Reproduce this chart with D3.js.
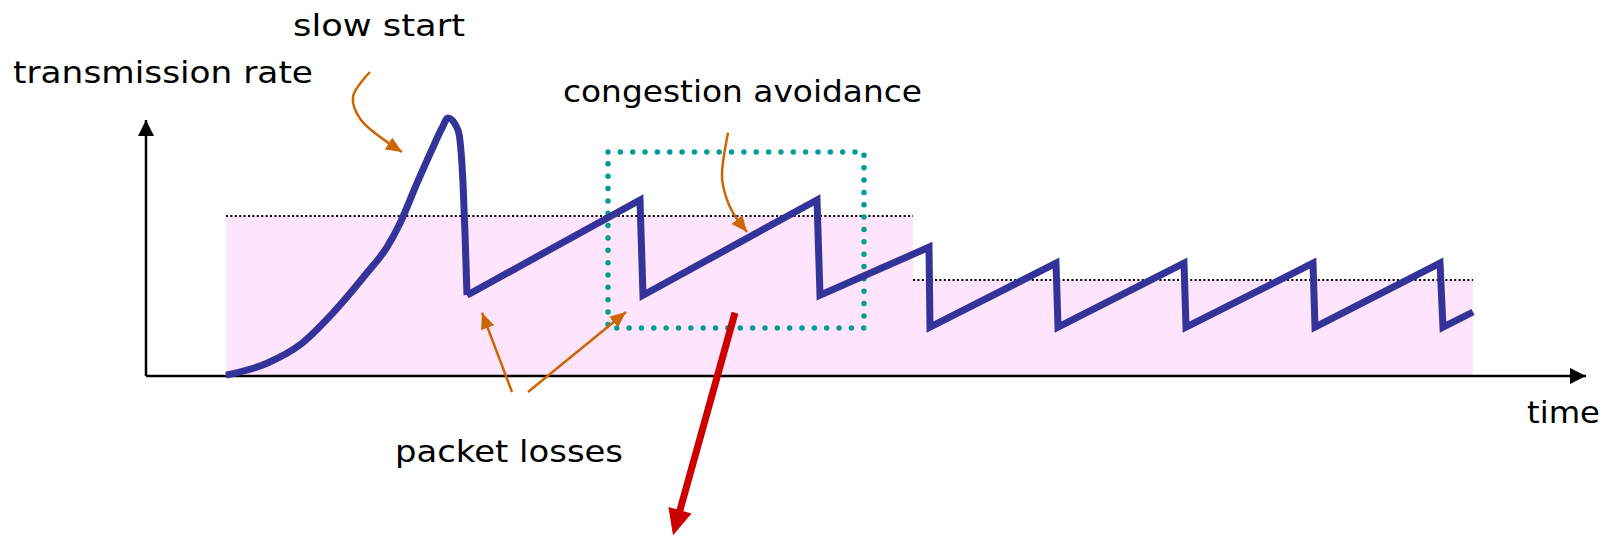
<!DOCTYPE html>
<html>
<head>
<meta charset="utf-8">
<script src="https://cdn.jsdelivr.net/npm/d3@7"></script>
<style>
  html, body { margin: 0; padding: 0; background: #fff; }
  svg { display: block; }
  text { font-family: "Comic Sans MS", "DejaVu Sans", sans-serif; font-size: 31px; fill: #000; }
</style>
</head>
<body>
<svg id="chart" width="1608" height="536"></svg>
<script>
// time / rate data (time in ticks, rate in units)
const slowStartTime = [4, 6.05, 7.7, 9.35, 11.05, 12.05, 12.7, 13.55, 14.35, 14.8, 15.1, 15.6, 15.85, 15.95, 16.05];
const slowStartRate = [0.1, 1.6, 3.9, 7.9, 12.9, 16.1, 19.1, 24.1, 28.6, 31.0, 32.25, 30.75, 24.1, 17.9, 10.1];

const sawTime = [16.05, 24.7, 24.85, 33.55, 33.7, 39.15, 39.2, 45.5, 45.6, 51.9, 52.0, 58.35, 58.45, 64.7, 64.85, 66.35];
const sawRate = [10.1, 22, 10.1, 22, 10.1, 16.1, 6.1, 14.1, 6.1, 14.1, 6.1, 14.1, 6.1, 14.1, 6.1, 8];

// threshold regions: [start, end, level]
const thresholdStart = [4, 38.35];
const thresholdEnd = [38.35, 66.35];
const thresholdLevel = [20, 12];

// highlighted congestion avoidance window
const windowTime = [23.1, 35.9];
const windowRate = [6, 28];

// annotation arrows (time, rate), last point is the tip
const slowStartArrow = [[11.2, 38], [10.35, 34.9], [10.75, 32], [12.8, 28]];
const avoidArrow = [[29.1, 30.4], [28.8, 24.9], [29.0, 22.4], [29.35, 20.4], [30.05, 18]];
const lossArrows = [
  [[18.3, -2], [16.8, 7.9]],
  [[19.1, -2], [24.0, 8]]
];
const zoomArrow = [[29.45, 7.9], [26.35, -19.9]];

const labels = ["transmission rate", "slow start", "congestion avoidance", "packet losses", "time"];

const svg = d3.select("#chart");

const x = d3.scaleLinear().domain([0, 72]).range([146, 1586]);
const y = d3.scaleLinear().domain([0, 32]).range([376, 120]);

// markers
const defs = svg.append("defs");
function head(id, color, len, wid) {
  defs.append("marker")
    .attr("id", id)
    .attr("markerUnits", "userSpaceOnUse")
    .attr("markerWidth", len)
    .attr("markerHeight", wid)
    .attr("refX", len)
    .attr("refY", wid / 2)
    .attr("orient", "auto")
    .append("path")
    .attr("d", `M0,0L${len},${wid / 2}L0,${wid}Z`)
    .attr("fill", color);
}
head("blackHead", "#000", 16, 16);
head("orangeHead", "#cc6600", 16, 14);

// pink threshold regions
svg.append("g").selectAll("rect")
  .data(thresholdLevel)
  .join("rect")
  .attr("x", (d, i) => x(thresholdStart[i]))
  .attr("y", d => y(d))
  .attr("width", (d, i) => x(thresholdEnd[i]) - x(thresholdStart[i]))
  .attr("height", d => y(0) - y(d))
  .attr("fill", "#fee4fd");

svg.append("g").selectAll("line")
  .data(thresholdLevel)
  .join("line")
  .attr("x1", (d, i) => x(thresholdStart[i]))
  .attr("x2", (d, i) => x(thresholdEnd[i]))
  .attr("y1", d => y(d))
  .attr("y2", d => y(d))
  .attr("stroke", "#000")
  .attr("stroke-width", 2)
  .attr("stroke-dasharray", "2 2.4");

// axes
svg.append("line")
  .attr("x1", x(0)).attr("y1", y(0))
  .attr("x2", x(0)).attr("y2", y(32))
  .attr("stroke", "#000").attr("stroke-width", 2.5)
  .attr("marker-end", "url(#blackHead)");
svg.append("line")
  .attr("x1", x(0)).attr("y1", y(0))
  .attr("x2", x(72)).attr("y2", y(0))
  .attr("stroke", "#000").attr("stroke-width", 2.5)
  .attr("marker-end", "url(#blackHead)");

// congestion avoidance window
svg.append("rect")
  .attr("x", x(windowTime[0]))
  .attr("y", y(windowRate[1]))
  .attr("width", x(windowTime[1]) - x(windowTime[0]))
  .attr("height", y(windowRate[0]) - y(windowRate[1]))
  .attr("fill", "none")
  .attr("stroke", "#009e9a")
  .attr("stroke-width", 5.5)
  .attr("stroke-linecap", "round")
  .attr("stroke-dasharray", "0 12.35");

// rate curve
const smooth = d3.line().x(d => x(d[0])).y(d => y(d[1])).curve(d3.curveCatmullRom.alpha(0.5));
const monotone = d3.line().x(d => x(d[0])).y(d => y(d[1])).curve(d3.curveMonotoneX);
const straight = d3.line().x(d => x(d[0])).y(d => y(d[1]));

svg.append("path")
  .attr("d", monotone(d3.zip(slowStartTime, slowStartRate)))
  .attr("fill", "none")
  .attr("stroke", "#333399")
  .attr("stroke-width", 7);
svg.append("path")
  .attr("d", straight(d3.zip(sawTime, sawRate)))
  .attr("fill", "none")
  .attr("stroke", "#333399")
  .attr("stroke-width", 7)
  .attr("stroke-linejoin", "miter");

// orange annotation arrows
const orange = svg.append("g")
  .attr("fill", "none")
  .attr("stroke", "#cc6600")
  .attr("stroke-width", 2.5)
  .attr("marker-end", "url(#orangeHead)");
orange.append("path").attr("d", smooth(slowStartArrow));
orange.append("path").attr("d", smooth(avoidArrow));
lossArrows.forEach(a => orange.append("path").attr("d", straight(a)));

// red zoom arrow, shaft stops short of the head
const p0 = [x(zoomArrow[0][0]), y(zoomArrow[0][1])];
const p1 = [x(zoomArrow[1][0]), y(zoomArrow[1][1])];
const len = Math.hypot(p1[0] - p0[0], p1[1] - p0[1]);
const ux = (p1[0] - p0[0]) / len, uy = (p1[1] - p0[1]) / len;
const headLen = 26, headWid = 24;
svg.append("line")
  .attr("x1", p0[0]).attr("y1", p0[1])
  .attr("x2", p1[0] - ux * (headLen - 4)).attr("y2", p1[1] - uy * (headLen - 4))
  .attr("stroke", "#cc0000").attr("stroke-width", 7);
const bx = p1[0] - ux * headLen, by = p1[1] - uy * headLen;
svg.append("path")
  .attr("d", d3.line()([
    p1,
    [bx - uy * headWid / 2, by + ux * headWid / 2],
    [bx + uy * headWid / 2, by - ux * headWid / 2]
  ]) + "Z")
  .attr("fill", "#cc0000");

// labels
const labelPos = [
  { x: 13, y: 83, w: 300 },
  { x: 293, y: 36, w: 172 },
  { x: 563, y: 102, w: 359 },
  { x: 395, y: 462, w: 228 },
  { x: 1527, y: 423, w: 73 }
];
svg.append("g").selectAll("text")
  .data(labels)
  .join("text")
  .attr("x", (d, i) => labelPos[i].x)
  .attr("y", (d, i) => labelPos[i].y)
  .attr("textLength", (d, i) => labelPos[i].w)
  .attr("lengthAdjust", "spacingAndGlyphs")
  .text(d => d);
</script>
</body>
</html>
